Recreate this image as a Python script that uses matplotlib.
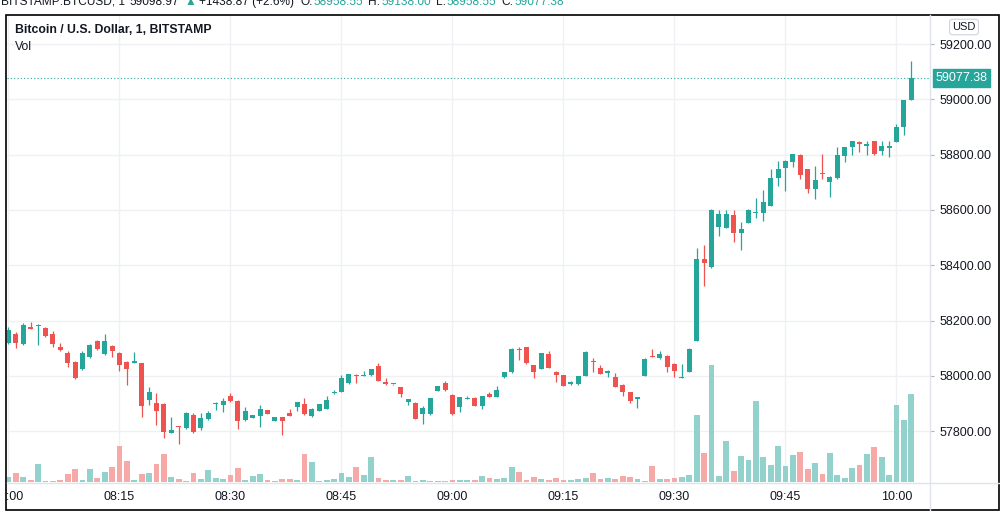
import matplotlib
matplotlib.use("Agg")
import matplotlib.pyplot as plt
import numpy as np
from matplotlib.patches import Rectangle
from matplotlib.lines import Line2D
from matplotlib.transforms import Bbox, TransformedBbox

plt.rcParams['font.family'] = ['Liberation Sans', 'DejaVu Sans']

# ---------------- data (1-minute candles, 08:00 .. 10:02) ----------------
opens = [58120, 58151, 58116, 58175, 58180, 58173, 58151, 58104, 58084, 58050,
         58025, 58068, 58126, 58079, 58109, 58083, 58050, 58048, 58045, 57913,
         57902, 57899, 57794, 57818, 57811, 57858, 57810, 57844, 57898, 57896,
         57928, 57910, 57840, 57849, 57856, 57876, 57838, 57851, 57867, 57888,
         57899, 57856, 57874, 57881, 57938, 57942, 57973, 58003, 58000, 58002,
         58037, 57979, 57969, 57959, 57907, 57902, 57862, 57862, 57946, 57973,
         57931, 57888, 57918, 57921, 57892, 57933, 57925, 57996, 58013, 58097,
         58103, 58039, 58026, 58079, 58014, 58002, 57969, 57969, 58001, 58053,
         58029, 58010, 57995, 57967, 57940, 57918, 58001, 58071, 58063, 58072,
         58043, 57994, 58015, 58127, 58423, 58392, 58539, 58535, 58581, 58518,
         58554, 58590, 58590, 58615, 58714, 58753, 58772, 58800, 58747, 58675,
         58734, 58702, 58714, 58796, 58826, 58844, 58830, 58849, 58814, 58823,
         58847, 58899, 58996]
highs = [58177, 58159, 58191, 58196, 58186, 58177, 58162, 58120, 58090, 58054,
         58091, 58115, 58130, 58151, 58112, 58086, 58054, 58086, 58048, 57960,
         57938, 57902, 57851, 57819, 57870, 57865, 57866, 57874, 57904, 57921,
         57939, 57913, 57888, 57860, 57895, 57878, 57852, 57853, 57881, 57906,
         57921, 57882, 57899, 57927, 57949, 58004, 58008, 58005, 58019, 58026,
         58045, 57991, 57972, 57961, 57918, 57904, 57892, 57921, 57964, 57981,
         57933, 57923, 57927, 57923, 57929, 57943, 57963, 58015, 58099, 58105,
         58104, 58041, 58084, 58091, 58016, 58004, 57981, 58000, 58091, 58063,
         58039, 58020, 58011, 57969, 57942, 57924, 58063, 58097, 58090, 58074,
         58045, 58043, 58099, 58461, 58472, 58602, 58600, 58600, 58600, 58557,
         58602, 58642, 58672, 58747, 58778, 58779, 58803, 58802, 58749, 58760,
         58802, 58721, 58826, 58828, 58851, 58849, 58849, 58851, 58849, 58849,
         58911, 58999, 59138]
lows = [58115, 58101, 58112, 58169, 58112, 58140, 58104, 58090, 58032, 57990,
        58021, 58064, 58093, 58075, 58069, 58019, 57968, 58046, 57852, 57895,
        57822, 57775, 57792, 57754, 57808, 57795, 57804, 57840, 57876, 57870,
        57907, 57808, 57837, 57848, 57816, 57862, 57836, 57786, 57854, 57873,
        57859, 57853, 57872, 57879, 57936, 57940, 57970, 57975, 57998, 57999,
        57981, 57967, 57968, 57922, 57893, 57844, 57826, 57860, 57945, 57947,
        57860, 57870, 57917, 57891, 57880, 57924, 57924, 57994, 58011, 58057,
        58043, 57991, 58025, 58028, 57979, 57963, 57968, 57968, 58000, 58015,
        58005, 57996, 57960, 57927, 57901, 57885, 58000, 58067, 58062, 58015,
        57997, 57993, 58014, 58126, 58326, 58391, 58506, 58533, 58485, 58455,
        58553, 58571, 58560, 58614, 58688, 58669, 58755, 58712, 58660, 58639,
        58712, 58648, 58712, 58774, 58799, 58810, 58799, 58799, 58799, 58790,
        58846, 58871, 58996]
closes = [58166, 58120, 58184, 58171, 58184, 58144, 58115, 58093, 58048, 57993,
          58084, 58112, 58097, 58127, 58091, 58040, 58026, 58052, 57892, 57943,
          57874, 57798, 57805, 57814, 57866, 57798, 57848, 57867, 57903, 57908,
          57910, 57837, 57872, 57858, 57880, 57863, 57850, 57838, 57856, 57904,
          57861, 57880, 57897, 57913, 57940, 57991, 58006, 58000, 58004, 58024,
          57982, 57969, 57971, 57933, 57916, 57845, 57883, 57919, 57962, 57949,
          57862, 57922, 57920, 57892, 57927, 57925, 57949, 58013, 58097, 58094,
          58045, 58013, 58082, 58029, 58002, 57964, 57979, 57998, 58087, 58050,
          58007, 58018, 57961, 57943, 57910, 57922, 58061, 58068, 58078, 58033,
          58019, 57996, 58097, 58423, 58407, 58600, 58585, 58585, 58518, 58531,
          58600, 58592, 58629, 58714, 58748, 58777, 58801, 58726, 58675, 58707,
          58730, 58719, 58799, 58826, 58849, 58837, 58838, 58802, 58831, 58831,
          58900, 58997, 59077.38]
volumes = [5, 9, 5, 2, 18, 1, 1, 1.7, 8, 13,
           2, 13, 4, 10, 15, 36, 21, 2, 8, 9,
           18, 28, 5, 3, 1, 9, 3, 12, 4, 3,
           7, 14, 2, 6, 8, 2, 1, 3, 3, 2,
           28, 20, 1.3, 2.3, 3.3, 9, 4.7, 14.7, 7.3, 25.3,
           4.3, 2.3, 2.3, 2.3, 6.3, 1.3, 2.3, 1.3, 1.3, 1.3,
           2.3, 2.3, 2.3, 2.3, 6.3, 4.3, 3.3, 4.3, 14.7, 10.3,
           2.3, 5.3, 3.3, 2.3, 4.3, 2.3, 2.3, 3.3, 4.3, 9.3,
           3.3, 4.3, 3.3, 6.3, 5.3, 3.3, 1.3, 16.3, 3, 3,
           4, 5.3, 6.7, 67.3, 29.3, 117.3, 6.3, 41.3, 11.3, 25.7,
           22.3, 81.3, 24.7, 17.3, 36.3, 16.3, 27.3, 30, 13.3, 19,
           8.3, 29, 7.3, 4.3, 14.3, 17.3, 28.3, 35.3, 24.7, 7.3,
           77.3, 61.7, 88.3]

time_tick_pos = [0, 15, 30, 45, 60, 75, 90, 105, 120]
time_tick_labels = ["08:00", "08:15", "08:30", "08:45", "09:00", "09:15", "09:30", "09:45", "10:00"]
price_ticks = [57800, 58000, 58200, 58400, 58600, 58800, 59000, 59200]
last_price = 59077.38

# (text, colour key, gap in px after it)
header_pieces = [("BITSTAMP:BTCUSD, 1", "dark", 5), ("59098.97", "dark", 5),
                 ("\u25B2", "teal", 3), ("+1438.87 (+2.6%)", "dark", 6),
                 ("O:", "dark", 1), ("58958.55", "teal", 5),
                 ("H:", "dark", 1), ("59138.00", "teal", 5),
                 ("L:", "dark", 1), ("58958.55", "teal", 5),
                 ("C:", "dark", 1), ("59077.38", "teal", 0)]

# ---------------- style ----------------
UP = "#26a69a"
DOWN = "#ef5350"
UP_VOL = "#93d2cc"
DOWN_VOL = "#f7a9a7"
DARK = "#131722"
GRID = "#eef0f3"
SEP = "#e0e3eb"

W, H = 1006, 517
fig = plt.figure(figsize=(W / 100, H / 100), dpi=100)
fig.patch.set_facecolor("white")


def fx(px):
    return px / W


def fy(py):
    return 1 - py / H


L_, R_, T_, B_ = 7, 930, 15, 483
ax = fig.add_axes([fx(L_), fy(B_), (R_ - L_) / W, (B_ - T_) / H])
ax.set_facecolor("white")

o = np.array(opens, float)
h = np.array(highs, float)
l = np.array(lows, float)
c = np.array(closes, float)
v = np.array(volumes, float)
x = np.arange(len(o))
up = c >= o

ax.set_xlim(-0.2, 124.53)
ax.set_ylim(57612.6, 59304.9)

# grid
ax.set_xticks(time_tick_pos)
ax.set_xticklabels(time_tick_labels)
ax.set_yticks(price_ticks)
ax.set_yticklabels([f"{p:.2f}" for p in price_ticks])
ax.grid(True, color=GRID, lw=1.0, zorder=0)
ax.set_axisbelow(True)

# volume (own scale in lower part of pane)
VOL_MAX = 468.0
ax.bar(x, v / VOL_MAX, width=0.8, bottom=0.002,
       color=np.where(up, UP_VOL, DOWN_VOL),
       transform=ax.get_xaxis_transform(), zorder=1, linewidth=0)

# candles
cols = np.where(up, UP, DOWN)
ax.vlines(x, l, h, colors=cols, lw=0.9, zorder=2)
body_low = np.minimum(o, c)
body_h = np.maximum(np.abs(c - o), 3.6)
ax.bar(x, body_h, bottom=body_low, width=0.68, color=cols, linewidth=0, zorder=3)

# last price line and label
ax.axhline(last_price, color=UP, lw=0.8, ls=(0, (1, 2)), zorder=2)
ax.annotate(f"{last_price:.2f}", xy=(1.0, last_price), xycoords=("axes fraction", "data"),
            xytext=(4, 0), textcoords="offset points", va="center", ha="left",
            color="white", fontsize=9, annotation_clip=False,
            bbox=dict(boxstyle="square,pad=0.22", fc=UP, ec=UP))

# axes styling
for s in ax.spines.values():
    s.set_visible(False)
ax.yaxis.tick_right()
ax.tick_params(axis="y", length=3, color="#b2b5be", labelsize=9, labelcolor=DARK, pad=4)
ax.tick_params(axis="x", length=0, labelsize=9, labelcolor=DARK, pad=6)

clipbb = TransformedBbox(Bbox.from_extents(fx(7), 0, fx(930), 1), fig.transFigure)
for t in ax.xaxis.get_major_ticks():
    t.label1.set_clip_box(clipbb)
    t.label1.set_clip_on(True)

# separators and frame
fig.add_artist(Line2D([fx(7), fx(999)], [fy(483), fy(483)], color=SEP, lw=1))
fig.add_artist(Line2D([fx(930), fx(930)], [fy(15), fy(510)], color=SEP, lw=1))
fig.add_artist(Rectangle((fx(6), fy(510)), fx(999) - fx(6), fy(15) - fy(510),
                         fill=False, ec="black", lw=1.2))

# USD badge
fig.text(fx(964), fy(27), "USD", fontsize=8, color=DARK, ha="center", va="center",
         bbox=dict(boxstyle="round,pad=0.25,rounding_size=0.3", fc="white", ec="#d1d4dc", lw=0.8))

# legend texts
fig.text(fx(15), fy(30), "Bitcoin / U.S. Dollar, 1, BITSTAMP", fontsize=8.8,
         fontweight="bold", color=DARK, ha="left", va="center")
fig.text(fx(15), fy(47), "Vol", fontsize=8.8, color=DARK, ha="left", va="center")

# cut-off top header (laid out piece by piece)
renderer = fig.canvas.get_renderer()
xpos = 1.0
for s, col, gap in header_pieces:
    t = fig.text(fx(xpos), fy(5), s, fontsize=8.6, color=(UP if col == "teal" else DARK),
                 ha="left", va="baseline")
    xpos += t.get_window_extent(renderer).width + gap

fig.savefig("out.png", dpi=100, facecolor="white")
